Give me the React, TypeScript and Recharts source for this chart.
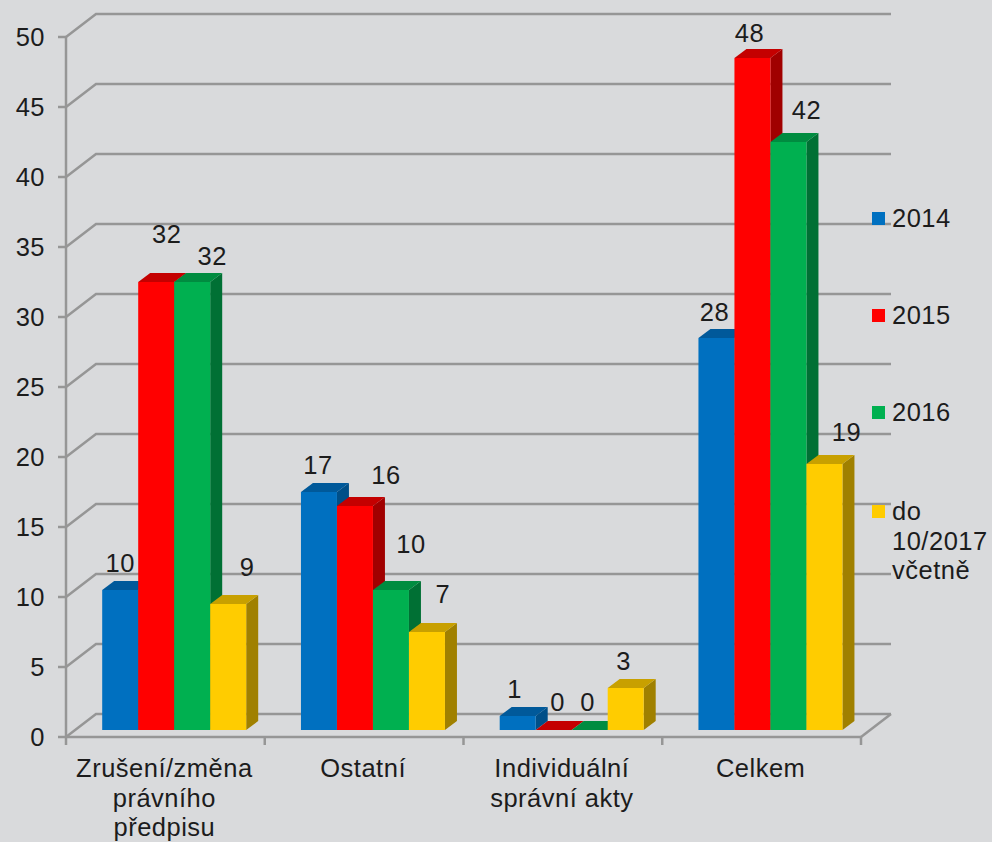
import React from "react";
import { BarChart, Bar, XAxis, YAxis, CartesianGrid, LabelList, Legend } from "recharts";

const categories = ["Zrušení/změna právního předpisu", "Ostatní", "Individuální správní akty", "Celkem"];
const values2014 = [10, 17, 1, 28];
const values2015 = [32, 16, 0, 48];
const values2016 = [32, 10, 0, 42];
const valuesDo2017 = [9, 7, 3, 19];
const yTicks = [0, 5, 10, 15, 20, 25, 30, 35, 40, 45, 50];

const rows = categories.map((name, i) => ({
  name,
  y2014: values2014[i],
  y2015: values2015[i],
  y2016: values2016[i],
  yDo2017: valuesDo2017[i],
}));

const W = 992;
const H = 842;
const LEFT = 66;
const RIGHT = 861;
const TOP = 37;
const BOTTOM = 737;
const WALL_DX = 30;
const WALL_DY = 23;
const BAR_SHIFT_X = 9.2;
const BAR_SHIFT_Y = -7;
const DEPTH_X = 12;
const DEPTH_Y = 9;
const BAND = (RIGHT - LEFT) / categories.length;
const FONT = "'Liberation Sans', Arial, sans-serif";
const FONT_SIZE = 25.5;
const SPACING = 0.5;
const TEXT = "#1c1c1c";
const LINE = "#969696";
const LINE_W = 2.5;

const look2014 = { front: "#0070C0", top: "#00599A", side: "#004F88" };
const look2015 = { front: "#FF0000", top: "#C40000", side: "#A00000" };
const look2016 = { front: "#00B050", top: "#008C40", side: "#007034" };
const lookDo2017 = { front: "#FFCC00", top: "#C8A000", side: "#A08000" };

const nudge2014 = [[0, -27], [-1, -27], [-3, -27], [-2, -26]];
const nudge2015 = [[10.5, -48], [31, -31], [4, -28], [-3, -25]];
const nudge2016 = [[20, -26], [20, -46], [-2, -28], [18, -32]];
const nudgeDo2017 = [[19, -37], [16, -38], [-2, -27], [22, -32]];

function makeShape(look: { front: string; top: string; side: string }) {
  return (props: any) => {
    const w = props.width;
    const h = Math.max(props.height || 0, 0);
    const x = props.x + BAR_SHIFT_X;
    const y = props.y + BAR_SHIFT_Y;
    const b = y + h;
    const r = x + w;
    return (
      <g>
        <polygon
          points={`${r},${y} ${r + DEPTH_X},${y - DEPTH_Y} ${r + DEPTH_X},${b - DEPTH_Y} ${r},${b}`}
          fill={look.side}
        />
        <polygon
          points={`${x},${y} ${x + DEPTH_X},${y - DEPTH_Y} ${r + DEPTH_X},${y - DEPTH_Y} ${r},${y}`}
          fill={look.top}
        />
        <rect x={x} y={y} width={w} height={h} fill={look.front} />
      </g>
    );
  };
}

function makeLabel(nudges: number[][]) {
  return (props: any) => {
    const [dx, dy] = nudges[props.index] || [0, -27];
    return (
      <text
        x={props.x + props.width / 2 + BAR_SHIFT_X + dx}
        y={props.y + BAR_SHIFT_Y + dy}
        dy="0.36em"
        textAnchor="middle"
        fontFamily={FONT}
        fontSize={FONT_SIZE}
        letterSpacing={SPACING}
        fill={TEXT}
      >
        {props.value}
      </text>
    );
  };
}

function wrapWords(label: string, maxChars: number) {
  const lines: string[] = [];
  let cur = "";
  for (const word of label.split(" ")) {
    const next = cur ? cur + " " + word : word;
    if (next.length > maxChars && cur) {
      lines.push(cur);
      cur = word;
    } else {
      cur = next;
    }
  }
  if (cur) lines.push(cur);
  return lines;
}

function CategoryTick(props: any) {
  const { x, payload, index } = props;
  const lines = wrapWords(payload.value, 14);
  const last = index === categories.length - 1;
  return (
    <g>
      <line x1={x - BAND / 2} x2={x - BAND / 2} y1={BOTTOM} y2={BOTTOM + 8} stroke={LINE} strokeWidth={LINE_W} />
      {last && <line x1={x + BAND / 2} x2={x + BAND / 2} y1={BOTTOM} y2={BOTTOM + 8} stroke={LINE} strokeWidth={LINE_W} />}
      {lines.map((l, i) => (
        <text
          key={i}
          x={x - 1}
          y={768 + i * 29.5}
          dy="0.36em"
          textAnchor="middle"
          fontFamily={FONT}
          fontSize={FONT_SIZE}
          letterSpacing={SPACING}
          fill={TEXT}
        >
          {l}
        </text>
      ))}
    </g>
  );
}

function wallLine(p: any) {
  const y = p.y1;
  const isFloor = Math.abs(y - BOTTOM) < 1;
  return (
    <g key={p.key ?? y}>
      <polyline
        points={`${LEFT},${y} ${LEFT + WALL_DX},${y - WALL_DY} ${RIGHT + WALL_DX},${y - WALL_DY}`}
        fill="none"
        stroke={LINE}
        strokeWidth={LINE_W}
      />
      {isFloor && (
        <line x1={RIGHT} y1={y} x2={RIGHT + WALL_DX} y2={y - WALL_DY} stroke={LINE} strokeWidth={LINE_W} />
      )}
    </g>
  );
}

const legendTops = [0, 97, 194, 293];

function LegendBox(props: any) {
  const items = props.payload || [];
  return (
    <div style={{ position: "relative", width: 120, height: 420, fontFamily: FONT, fontSize: FONT_SIZE, letterSpacing: SPACING, color: TEXT }}>
      {items.map((it: any, i: number) => (
        <div key={i} style={{ position: "absolute", left: 0, top: legendTops[i], width: 120 }}>
          <div style={{ position: "absolute", left: 0, top: 8, width: 13, height: 13, background: it.color }} />
          <div style={{ position: "absolute", left: 20, top: 0, width: 100, lineHeight: "29.5px", textAlign: "left" }}>
            {it.value}
          </div>
        </div>
      ))}
    </div>
  );
}

export default function App() {
  return (
    <div style={{ position: "absolute", left: 0, top: 0, width: W, height: H, background: "#D9DADC", overflow: "hidden" }}>
      <BarChart
        width={W}
        height={H}
        data={rows}
        margin={{ top: TOP, right: W - RIGHT, bottom: 0, left: 0 }}
        barSize={36}
        barGap={0}
      >
        <CartesianGrid vertical={false} horizontal={wallLine} syncWithTicks />
        <XAxis
          dataKey="name"
          height={H - BOTTOM}
          interval={0}
          tickLine={false}
          axisLine={{ stroke: LINE, strokeWidth: LINE_W }}
          tick={CategoryTick}
        />
        <YAxis
          width={LEFT}
          domain={[0, 50]}
          ticks={yTicks}
          interval={0}
          tickSize={8}
          tickMargin={13}
          axisLine={{ stroke: LINE, strokeWidth: LINE_W }}
          tickLine={{ stroke: LINE, strokeWidth: LINE_W }}
          tick={{ fontFamily: FONT, fontSize: FONT_SIZE, fill: TEXT, letterSpacing: SPACING }}
        />
        <Legend
          layout="vertical"
          verticalAlign="middle"
          align="center"
          wrapperStyle={{ left: 872, top: 204, width: 120, margin: 0 }}
          content={LegendBox}
        />
        <Bar dataKey="y2014" name="2014" fill={look2014.front} isAnimationActive={false} shape={makeShape(look2014)}>
          <LabelList dataKey="y2014" content={makeLabel(nudge2014)} />
        </Bar>
        <Bar dataKey="y2015" name="2015" fill={look2015.front} isAnimationActive={false} shape={makeShape(look2015)}>
          <LabelList dataKey="y2015" content={makeLabel(nudge2015)} />
        </Bar>
        <Bar dataKey="y2016" name="2016" fill={look2016.front} isAnimationActive={false} shape={makeShape(look2016)}>
          <LabelList dataKey="y2016" content={makeLabel(nudge2016)} />
        </Bar>
        <Bar dataKey="yDo2017" name="do 10/2017 včetně" fill={lookDo2017.front} isAnimationActive={false} shape={makeShape(lookDo2017)}>
          <LabelList dataKey="yDo2017" content={makeLabel(nudgeDo2017)} />
        </Bar>
      </BarChart>
    </div>
  );
}
